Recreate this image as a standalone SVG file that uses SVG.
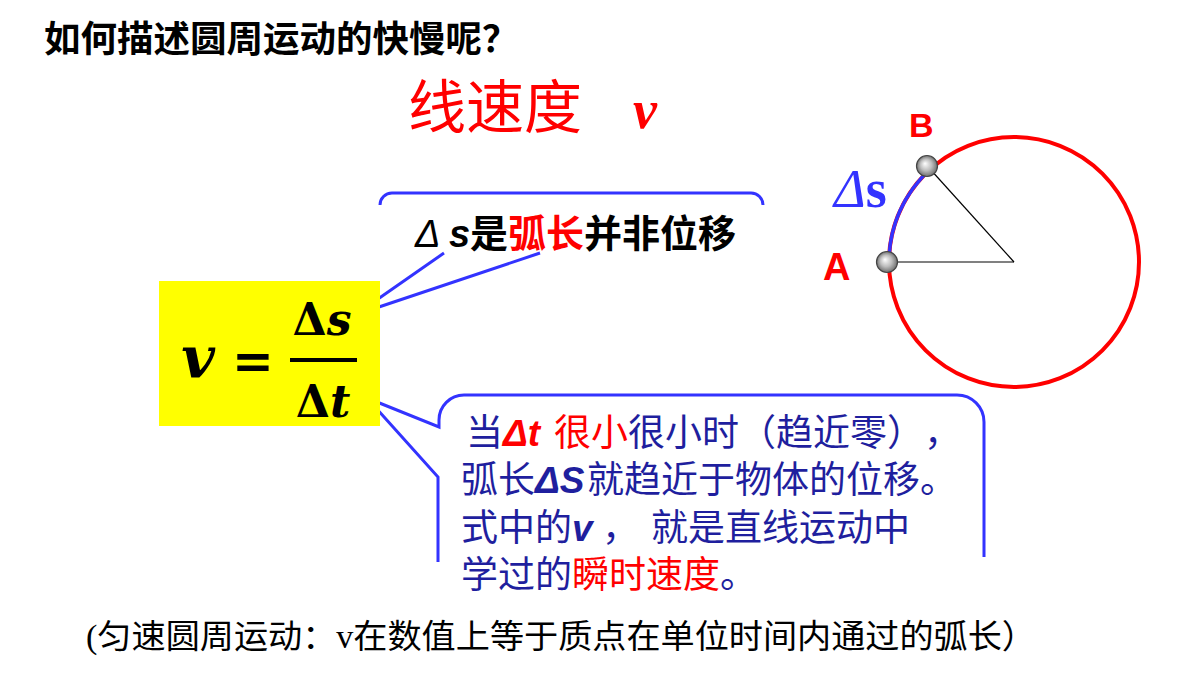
<svg xmlns="http://www.w3.org/2000/svg" width="1200" height="675" viewBox="0 0 1200 675">
<defs>
<radialGradient id="ball" cx="0.5" cy="0.5" r="0.5" fx="0.4" fy="0.38">
<stop offset="0" stop-color="#ffffff"/>
<stop offset="0.55" stop-color="#bdbdbd"/>
<stop offset="1" stop-color="#6e6e6e"/>
</radialGradient>
</defs>
<style>
text{text-spacing-trim:space-all;font-feature-settings:"chws" 0,"halt" 0,"palt" 0;}
.cjk{font-family:"Noto Sans CJK SC","Liberation Sans",sans-serif;}
.bline{fill:none;stroke:#3333ff;stroke-width:3;stroke-linejoin:miter;}
.navy{fill:#1f1f9e;}
.red{fill:#ff0000;}
.math{font-family:"DejaVu Serif",serif;font-weight:bold;fill:#000;}
.lat{font-family:"Liberation Sans",sans-serif;font-weight:bold;font-style:italic;}
.ball{fill:url(#ball);stroke:#444;stroke-width:1.2;}
</style>
<rect width="1200" height="675" fill="#ffffff"/>

<g id="title">
<text class="cjk" x="44" y="52" font-size="36.5" font-weight="bold" fill="#000">如何描述圆周运动的快慢呢？</text>
</g>

<g id="heading">
<text class="cjk red" x="408" y="128" font-size="58">线速度</text>
<text x="633" y="128" font-family="Liberation Serif,serif" font-style="italic" font-weight="bold" font-size="54" fill="#ff0000">v</text>
</g>

<g id="connectors">
<path class="bline" d="M380,205 A12,12 0 0 1 392,193 H751 A12,12 0 0 1 763,205"/>
<path class="bline" d="M444,253 L355,315 L540,253"/>
<path class="bline" d="M438,562 V477 L367,398 L439,427 V420 A25,25 0 0 1 464,395 H957 A27,27 0 0 1 984,422 V557"/>
</g>

<g id="note-arc">
<text x="415" y="247" font-size="38" class="cjk" font-weight="bold" fill="#000"><tspan font-family="Liberation Sans,sans-serif" font-style="italic" font-weight="normal">Δ</tspan><tspan x="449" font-family="Liberation Sans,sans-serif" font-style="italic">s</tspan><tspan x="470">是</tspan><tspan fill="#ff0000">弧长</tspan><tspan>并非位移</tspan></text>
</g>

<g id="formula">
<rect x="159" y="281" width="221" height="145" fill="#ffff00"/>
<text class="math" x="198" y="378" font-size="58" font-style="italic" text-anchor="middle">v</text>
<text class="math" x="253" y="378" font-size="50" text-anchor="middle">=</text>
<text class="math" x="322" y="335" font-size="44" text-anchor="middle">Δ<tspan font-style="italic">s</tspan></text>
<line x1="290" y1="360" x2="357" y2="360" stroke="#000" stroke-width="4"/>
<text class="math" x="323" y="417" font-size="44" text-anchor="middle">Δ<tspan font-style="italic">t</tspan></text>
</g>

<g id="note-limit" font-size="37">
<text class="cjk navy" x="466" y="446">当<tspan class="lat red">Δt</tspan><tspan x="554" fill="#ff0000">很小</tspan><tspan>很小时（趋近零），</tspan></text>
<text class="cjk navy" x="461" y="493">弧长<tspan class="lat">ΔS</tspan><tspan x="587">就趋近于物体的位移。</tspan></text>
<text class="cjk navy" x="461" y="541">式中的<tspan class="lat">v</tspan><tspan x="602">，</tspan><tspan x="651">就是直线运动中</tspan></text>
<text class="cjk navy" x="461" y="588">学过的<tspan fill="#ff0000">瞬时速度</tspan>。</text>
</g>

<g id="circle-figure">
<circle cx="1014" cy="262" r="125" fill="none" stroke="#ff0000" stroke-width="4"/>
<line x1="888" y1="262" x2="1014" y2="262" stroke="#808080" stroke-width="1.8"/>
<line x1="930" y1="169" x2="1014" y2="262" stroke="#000" stroke-width="1.2"/>
<path d="M889,262 A125,125 0 0 1 930.5,169" fill="none" stroke="#3333ff" stroke-width="3.5"/>
<circle class="ball" cx="887" cy="262" r="10.5"/>
<circle class="ball" cx="927" cy="166" r="10.5"/>
<text x="909" y="137" font-family="Liberation Sans,sans-serif" font-weight="bold" font-size="34" fill="#ff0000">B</text>
<text x="823" y="280" font-family="Liberation Sans,sans-serif" font-weight="bold" font-size="38" fill="#ff0000">A</text>
<text x="834" y="207" font-family="Liberation Serif,serif" font-size="54" fill="#3333ff"><tspan font-style="italic">Δ</tspan><tspan font-weight="bold">s</tspan></text>
</g>

<g id="footnote">
<text x="86" y="648" font-size="33" fill="#000" textLength="950" lengthAdjust="spacingAndGlyphs"><tspan font-family="Liberation Serif,serif">(</tspan><tspan class="cjk">匀速圆周运动：</tspan><tspan font-family="Liberation Serif,serif">v</tspan><tspan class="cjk">在数值上等于质点在单位时间内通过的弧长）</tspan></text>
</g>
</svg>
